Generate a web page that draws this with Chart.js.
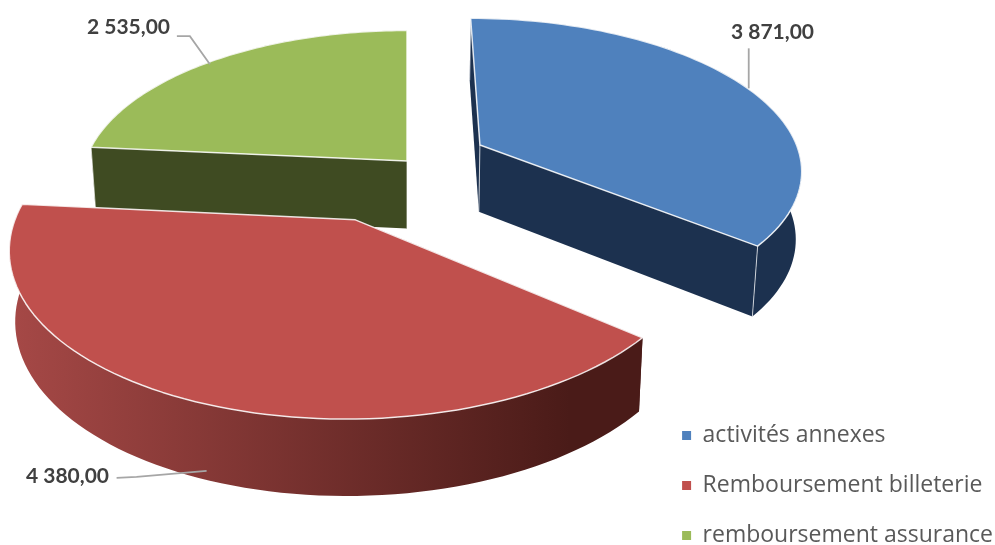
<!DOCTYPE html>
<html>
<head>
<meta charset="utf-8">
<title>Pie 3D</title>
<script src="https://cdn.jsdelivr.net/npm/chart.js@4/dist/chart.umd.min.js"></script>
<style>
  html, body { margin: 0; padding: 0; background: #fff; }
  #wrap { width: 995px; height: 545px; }
</style>
</head>
<body>
<div id="wrap"><canvas id="pie"></canvas></div>
<script>
const categories = ['activités annexes', 'Remboursement billeterie', 'remboursement assurance'];
const values = [3871, 4380, 2535];
const explosion = [0.255, 0.40, 0];
const topColors = ['#4f81bd', '#c0504d', '#9bbb59'];
const wallColors = [['#1c314f', '#1c314f'], ['#a54846', '#4a1b18'], ['#3f4b22', '#3f4b22']];

// perspective of the pie's plane, fitted on the reference
const CENTER_X = 407, HORIZON_Y = -849;
const W0 = 0.00099, K = 0.000147, C = 0.3185;
const DEPTH_BASE = 30, DEPTH_Y = 0.037, DEPTH_X = 0.985;

function project(u, v, bottom) {
  const h = 1 / (W0 - K * v);
  let x = C * u * h, y = h;
  if (bottom) { x *= DEPTH_X; y += DEPTH_BASE + DEPTH_Y * h; }
  return { x: CENTER_X + x, y: HORIZON_Y + y };
}

function fmt(n) {
  const s = n.toFixed(2).replace('.', ',');
  return s.replace(/\B(?=(\d{3})+(?!\d))(?=.*,)/g, ' ');
}

function poly(ctx, pts) {
  ctx.beginPath();
  pts.forEach((p, i) => i ? ctx.lineTo(p.x, p.y) : ctx.moveTo(p.x, p.y));
  ctx.closePath();
}

function sliceGeom(arc) {
  const mid = (arc.startAngle + arc.endAngle) / 2;
  const e = arc.options.offset / 100;
  const ou = e * Math.cos(mid), ov = e * Math.sin(mid);
  const rim = [];
  const n = 80;
  for (let i = 0; i <= n; i++) {
    const a = arc.startAngle + (arc.endAngle - arc.startAngle) * i / n;
    rim.push([ou + Math.cos(a), ov + Math.sin(a)]);
  }
  return { mid, ou, ov, rim };
}

const tiltedPie = {
  id: 'tiltedPie',
  beforeDatasetsDraw(chart) {
    const ctx = chart.ctx;
    const arcs = chart.getDatasetMeta(0).data.map((arc, i) => ({ arc, i, g: sliceGeom(arc) }));
    arcs.sort((a, b) => a.g.ov - b.g.ov);
    ctx.save();
    arcs.forEach(({ arc, i, g }) => {
      const topRim = g.rim.map(p => project(p[0], p[1], false));
      const botRim = g.rim.map(p => project(p[0], p[1], true));
      const apexT = project(g.ou, g.ov, false), apexB = project(g.ou, g.ov, true);
      const last = topRim.length - 1;

      const grad = ctx.createLinearGradient(15, 0, 570, 0);
      grad.addColorStop(0, wallColors[i][0]);
      grad.addColorStop(1, wallColors[i][1]);
      ctx.fillStyle = grad;

      // radial faces
      poly(ctx, [apexT, topRim[0], botRim[0], apexB]);
      ctx.fill();
      poly(ctx, [apexT, topRim[last], botRim[last], apexB]);
      ctx.fill();
      // outer face
      poly(ctx, topRim.concat(botRim.slice().reverse()));
      ctx.fill();

      // light edges of the walls
      ctx.strokeStyle = 'rgba(255,255,255,0.7)';
      ctx.lineWidth = 1;
      [[apexT, apexB], [topRim[0], botRim[0]], [topRim[last], botRim[last]]].forEach(e => {
        if (i === 1) return;
        ctx.beginPath();
        ctx.moveTo(e[0].x, e[0].y);
        ctx.lineTo(e[1].x, e[1].y);
        ctx.stroke();
      });

      // top face
      poly(ctx, [apexT].concat(topRim));
      ctx.fillStyle = arc.options.backgroundColor;
      ctx.fill();
      ctx.strokeStyle = 'rgba(255,255,255,0.85)';
      ctx.lineWidth = 1.5;
      ctx.lineJoin = 'round';
      ctx.stroke();
    });
    ctx.restore();
    drawLabels(chart);
    return false;
  }
};

// value labels with their leader lines
const labelStyle = [
  { x: 772.5, y: 32, shift: [4, 2], elbow: [0, -40], end: [0, -40], wall: false },
  { x: 67.5, y: 476, shift: [8, -7], elbow: [-70, 6], end: [-90, 7], wall: true },
  { x: 128.5, y: 27, shift: [-2, 3], elbow: [-20, -28], end: [-33, -28], wall: false }
];

function drawLabels(chart) {
  const ctx = chart.ctx;
  ctx.save();
  chart.getDatasetMeta(0).data.forEach((arc, i) => {
    const g = sliceGeom(arc);
    const s = labelStyle[i];
    const u = g.ou + Math.cos(g.mid), v = g.ov + Math.sin(g.mid);
    const p = project(u, v, s.wall);
    const a = { x: p.x + s.shift[0], y: p.y + s.shift[1] };
    ctx.strokeStyle = '#a6a6a6';
    ctx.lineWidth = 1.8;
    ctx.beginPath();
    ctx.moveTo(a.x, a.y);
    ctx.lineTo(a.x + s.elbow[0], a.y + s.elbow[1]);
    ctx.lineTo(a.x + s.end[0], a.y + s.end[1]);
    ctx.stroke();
    ctx.fillStyle = '#404040';
    ctx.font = 'bold 21px Lato';
    ctx.textAlign = 'center';
    ctx.textBaseline = 'middle';
    ctx.fillText(fmt(values[i]), s.x, s.y);
  });
  ctx.restore();
}

new Chart(document.getElementById('pie'), {
  type: 'pie',
  data: {
    labels: categories,
    datasets: [{
      data: values,
      backgroundColor: topColors,
      borderWidth: 0,
      offset: explosion.map(e => e * 100)
    }]
  },
  plugins: [tiltedPie],
  options: {
    responsive: true,
    maintainAspectRatio: false,
    animation: false,
    layout: { padding: { bottom: -29, right: -8 } },
    plugins: {
      tooltip: { enabled: false },
      legend: {
        position: 'right',
        align: 'end',
        labels: {
          boxWidth: 9,
          boxHeight: 9,
          padding: 27,
          color: '#595959',
          font: { family: 'Open Sans', size: 23 }
        }
      }
    }
  }
});
</script>
</body>
</html>
